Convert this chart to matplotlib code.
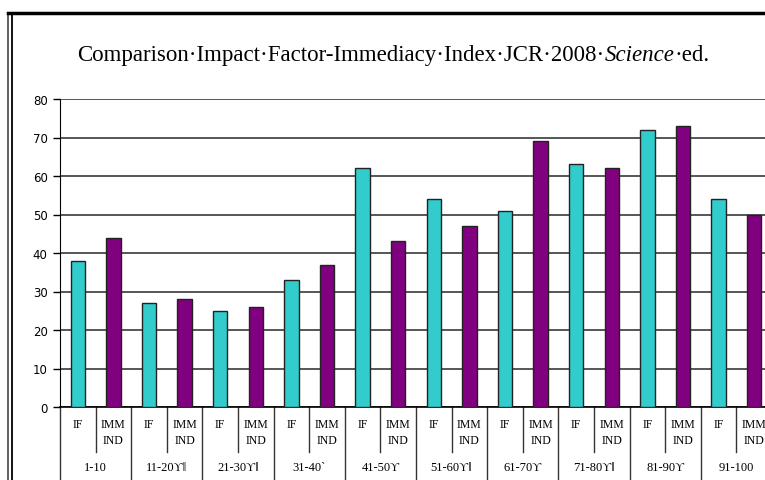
import numpy as np
import matplotlib.pyplot as plt
from matplotlib.lines import Line2D

# data
groups = ['1-10', '11-20ϒǁ', '21-30ϒǁ', '31-40ˋ', '41-50ϒ',
          '51-60ϒǁ', '61-70ϒ', '71-80ϒǁ', '81-90ϒ', '91-100']
sub_labels = ['IF', 'IMM\nIND']
impact_factor = [38, 27, 25, 33, 62, 54, 51, 63, 72, 54]
immediacy_index = [44, 28, 26, 37, 43, 47, 69, 62, 73, 50]

W, H = 765, 481
fig = plt.figure(figsize=(W / 100, H / 100), dpi=100)
# plot area runs a bit past the right edge, like the cropped original
ax = fig.add_axes([60 / W, (H - 408) / H, 712 / W, 308 / H])

values = np.ravel(np.column_stack([impact_factor, immediacy_index]))
x = np.arange(len(values))
colors = ['#33CCCC', '#800080'] * len(groups)
ax.bar(x, values, width=0.41, color=colors, edgecolor='#222222',
       linewidth=1, zorder=3)

ax.set_xlim(-0.5, len(values) - 0.5)
ax.set_ylim(0, 80)
ax.set_yticks(np.arange(0, 81, 10))
ax.yaxis.grid(True, color='#3a3a3a', lw=1.2)
ax.set_axisbelow(True)
for s in ['top', 'right']:
    ax.spines[s].set_visible(False)
ax.spines['left'].set_color('black')
ax.spines['bottom'].set_color('black')
ax.spines['bottom'].set_linewidth(1.2)

ax.tick_params(axis='y', length=5, width=1, labelsize=8.5, pad=4)
ax.set_xticks(x, sub_labels * len(groups))
ax.tick_params(axis='x', length=0, pad=8)
for t in ax.get_xticklabels():
    t.set_fontfamily('Liberation Serif')
    t.set_fontsize(8.5)
    t.set_linespacing(1.4)

# category dividers below the axis
trans = ax.get_xaxis_transform()
for b in range(0, len(values)):
    xpos = b - 0.5
    low = -0.146 if b % 2 == 1 else -0.24
    ax.plot([xpos, xpos], [0, low], transform=trans, color='#333333',
            lw=1, clip_on=False)

for g, lab in enumerate(groups):
    ax.text(2 * g + 0.5, -0.195, lab, transform=trans, ha='center',
            va='center', fontsize=9, family='Liberation Serif')

# page frame of the original document
top = 1 - 14 / H
fig.add_artist(Line2D([8 / W, 8 / W], [0, top], color='#555555', lw=1.3))
fig.add_artist(Line2D([12 / W, 12 / W], [0, top], color='black', lw=1.3))
fig.add_artist(Line2D([8 / W, 1], [top, top], color='black', lw=2.5))

# title, with Science in italics
tsize = 16.5
t1 = fig.text(77 / W, 1 - 61 / H,
              'Comparison·Impact·Factor-Immediacy·Index·JCR·2008·',
              fontsize=tsize, family='Liberation Serif', va='baseline')
t2 = ax.annotate('Science', xy=(1, 0), xycoords=t1, va='bottom',
                 fontsize=tsize, family='Liberation Serif', style='italic',
                 annotation_clip=False)
t3 = ax.annotate('·ed.', xy=(1, 0), xycoords=t2, va='bottom',
                 fontsize=tsize, family='Liberation Serif',
                 annotation_clip=False)

fig.savefig('out.png', dpi=100)
